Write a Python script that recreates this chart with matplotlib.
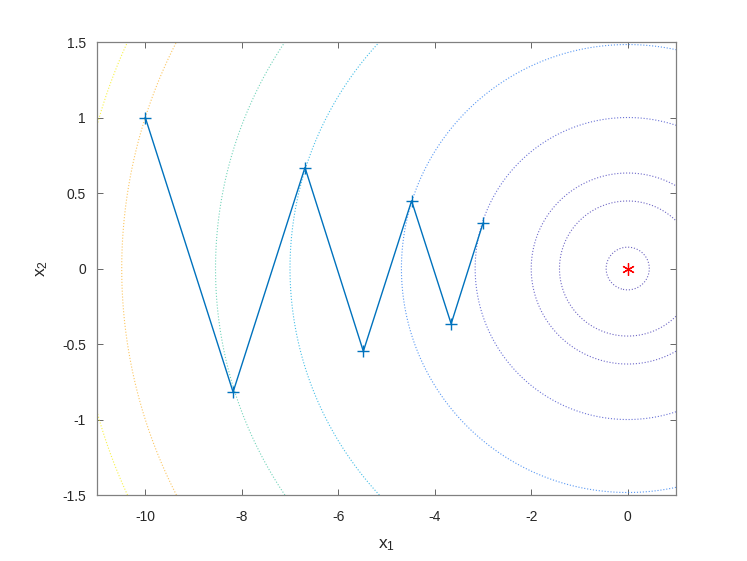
import matplotlib
matplotlib.use('Agg')
import matplotlib.pyplot as plt
from matplotlib.ticker import FuncFormatter
import numpy as np

# iterates of the descent path
path_x1 = [-10.0, -8.18, -6.69, -5.48, -4.48, -3.66, -3.0]
path_x2 = [1.0, -0.818, 0.669, -0.548, 0.448, -0.366, 0.30]

# objective f = a*x1^2 + b*x2^2 and the contour levels seen in the picture
coef_a, coef_b = 1.0, 10.0
levels = [0.2, 2, 4, 10, 22, 49, 73, 110, 130]

x_ticks = [-10, -8, -6, -4, -2, 0]
y_ticks = [-1.5, -1, -0.5, 0, 0.5, 1, 1.5]

# parula-like colour for every level
level_colors = ['#4a3fb0', '#4a40b5', '#4a44bd', '#4650cc', '#2f7ff0',
                '#17aee0', '#4fc9a8', '#fbb83a', '#f6ef1c']

plt.rcParams['font.family'] = ['Liberation Sans', 'DejaVu Sans']
plt.rcParams['mathtext.default'] = 'regular'
plt.rcParams['axes.unicode_minus'] = False

fig = plt.figure(figsize=(7.47, 5.61), dpi=100)
ax = fig.add_axes([0.1299, 0.1176, 0.775, 0.8075])

g1 = np.linspace(-11, 1, 600)
g2 = np.linspace(-1.5, 1.5, 300)
X1, X2 = np.meshgrid(g1, g2)
F = coef_a * X1**2 + coef_b * X2**2
ax.contour(X1, X2, F, levels=levels, colors=level_colors, linestyles=':',
           linewidths=0.8, alpha=0.8)

ax.plot(path_x1, path_x2, '-+', color='#0072BD', lw=1.0, ms=9, mew=1.0)
# matlab style asterisk
ax.plot([0], [0], marker=(6, 2, 0), color='red', ms=9, mew=0.9, ls='none')

ax.set_xlim(-11, 1)
ax.set_ylim(-1.5, 1.5)
ax.set_xticks(x_ticks)
ax.set_yticks(y_ticks)
fmt = FuncFormatter(lambda v, p: ('%g' % v))
ax.xaxis.set_major_formatter(fmt)
ax.yaxis.set_major_formatter(fmt)
ax.tick_params(direction='in', top=True, right=True, length=4.5, width=0.6,
               color='0.3', labelsize=10, labelcolor='0.15')
ax.tick_params(axis='x', pad=11)
ax.tick_params(axis='y', pad=8)
for s in ax.spines.values():
  s.set_color('0.5')
  s.set_linewidth(0.9)

ax.set_xlabel('$x_1$', fontsize=12.5, color='0.15', labelpad=9)
ax.set_ylabel('$x_2$', fontsize=12.5, color='0.15', labelpad=9)

fig.savefig('out.png', dpi=100)
